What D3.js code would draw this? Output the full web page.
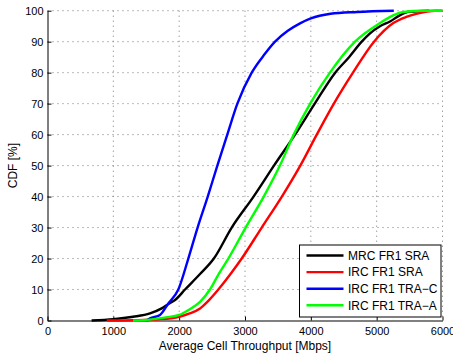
<!DOCTYPE html>
<html>
<head>
<meta charset="utf-8">
<script src="https://cdn.jsdelivr.net/npm/d3@7"></script>
<style>
  body { margin: 0; background: #fff; }
  text { font-family: "Liberation Sans", Arial, sans-serif; }
</style>
</head>
<body>
<script>
// CDF curves: [throughput Mbps, CDF %]
var mrcSra = [[670,0],[1000,0.4],[1300,1.2],[1557,2.3],[1735,3.9],[1850,5.5],[1937,6.6],
  [2089,10],[2317,15],[2527,20],[2798,30],[3130,40],[3440,50],[3760,60],[4060,70],
  [4370,80],[4580,85],[4773,90],[4899,92.7],[5050,95],[5203,96.5],[5350,98.5],
  [5500,99.7],[5800,100]];
var ircSra = [[900,0],[1300,0.1],[1700,0.4],[2000,1.2],[2150,2.2],[2317,3.9],[2450,6.5],
  [2595,10],[2780,15],[2950,20],[3254,30],[3560,40],[3840,50],[4090,60],[4350,70],
  [4640,80],[4960,90],[5253,96],[5450,98],[5600,99],[5900,100],[6000,100]];
var ircTraC = [[1500,0],[1557,0.7],[1709,1.8],[1835,5.5],[1987,10],[2139,20],[2280,30],
  [2434,40],[2580,50],[2731,60],[2884,70],[3102,80],[3300,86],[3456,90],[3650,93.5],
  [3836,95.9],[4000,97.5],[4300,99],[4700,99.6],[5260,100]];
var ircTraA = [[1300,0],[1550,0.3],[1800,1],[2000,1.8],[2150,3.5],[2317,6],[2468,10],
  [2600,15],[2747,20],[3010,30],[3285,40],[3530,50],[3740,60],[3990,70],[4290,80],
  [4671,90],[5051,96],[5250,98.5],[5405,99.6],[5700,100],[6000,100]];

var seriesNames = ["MRC FR1 SRA", "IRC FR1 SRA", "IRC FR1 TRA\u2212C", "IRC FR1 TRA\u2212A"];
var seriesColors = ["#000000", "#ff0000", "#0000ff", "#00ff00"];
var seriesData = [mrcSra, ircSra, ircTraC, ircTraA];

var xTicks = [0, 1000, 2000, 3000, 4000, 5000, 6000];
var yTicks = [0, 10, 20, 30, 40, 50, 60, 70, 80, 90, 100];

var outerWidth = 453,
  outerHeight = 354,
  plotLeft = 47.5, plotRight = 442.5, plotTop = 10.7, plotBottom = 320.5;

var svg = d3.select("body").append("svg")
  .attr("width", outerWidth)
  .attr("height", outerHeight);

var xScale = d3.scaleLinear().domain([0, 6000]).range([plotLeft, plotRight]);
var yScale = d3.scaleLinear().domain([0, 100]).range([plotBottom, plotTop]);

// dotted grid
svg.append("g").selectAll("line")
  .data(xTicks.slice(1))
  .enter().append("line")
  .attr("x1", function(d) { return xScale(d); })
  .attr("x2", function(d) { return xScale(d); })
  .attr("y1", plotTop).attr("y2", plotBottom)
  .attr("stroke", "#777").attr("stroke-width", 1)
  .attr("stroke-dasharray", "1,4");

svg.append("g").selectAll("line")
  .data(yTicks.slice(1))
  .enter().append("line")
  .attr("x1", plotLeft).attr("x2", plotRight)
  .attr("y1", function(d) { return yScale(d); })
  .attr("y2", function(d) { return yScale(d); })
  .attr("stroke", "#777").attr("stroke-width", 1)
  .attr("stroke-dasharray", "1,4");

// axes with inward ticks
var xAxis = d3.axisBottom(xScale).tickValues(xTicks).tickFormat(d3.format("d"))
  .tickSizeInner(-4).tickSizeOuter(0).tickPadding(7);
var yAxis = d3.axisLeft(yScale).tickValues(yTicks).tickFormat(d3.format("d"))
  .tickSizeInner(-4).tickSizeOuter(0).tickPadding(4);

var gx = svg.append("g")
  .attr("transform", "translate(0," + plotBottom + ")")
  .call(xAxis);
var gy = svg.append("g")
  .attr("transform", "translate(" + plotLeft + ",0)")
  .call(yAxis);

[gx, gy].forEach(function(g) {
  g.selectAll("path, line").attr("stroke", "#000");
  g.selectAll("text").attr("fill", "#000").style("font-size", "11px")
    .style("font-family", "'Liberation Sans', Arial, sans-serif");
});

// curves
var line = d3.line()
  .x(function(d) { return xScale(d[0]); })
  .y(function(d) { return yScale(d[1]); })
  .curve(d3.curveMonotoneX);

seriesData.forEach(function(data, i) {
  svg.append("path")
    .datum(data)
    .attr("d", line)
    .attr("fill", "none")
    .attr("stroke", seriesColors[i])
    .attr("stroke-width", 2.4)
    .attr("stroke-linejoin", "round");
});

// axis labels
svg.append("text")
  .attr("x", (plotLeft + plotRight) / 2)
  .attr("y", 350)
  .attr("text-anchor", "middle")
  .style("font-size", "12px")
  .text("Average Cell Throughput [Mbps]");

svg.append("text")
  .attr("transform", "translate(17," + ((plotTop + plotBottom) / 2) + ") rotate(-90)")
  .attr("text-anchor", "middle")
  .style("font-size", "12px")
  .text("CDF [%]");

// legend
var legend = svg.append("g");
legend.append("rect")
  .attr("x", 299.5).attr("y", 245)
  .attr("width", 141.5).attr("height", 72)
  .attr("fill", "#fff").attr("stroke", "#000").attr("stroke-width", 1);

seriesNames.forEach(function(name, i) {
  var ly = 255.5 + i * 16.6;
  legend.append("line")
    .attr("x1", 306.5).attr("x2", 343.5)
    .attr("y1", ly).attr("y2", ly)
    .attr("stroke", seriesColors[i]).attr("stroke-width", 2.4);
  legend.append("text")
    .attr("x", 348)
    .attr("y", ly + 4.3)
    .style("font-size", "12px")
    .text(name);
});
</script>
</body>
</html>
